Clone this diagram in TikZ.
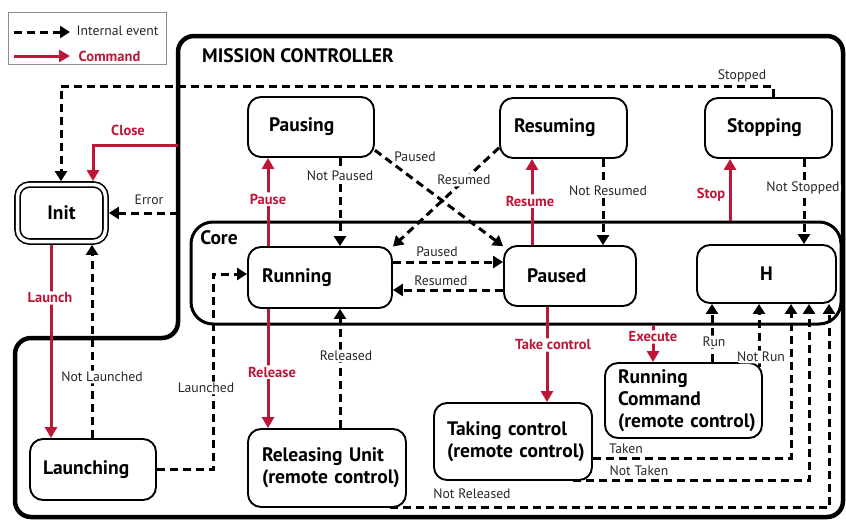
\documentclass[tikz,border=0pt]{standalone}
\usepackage{fontspec}
\setmainfont{PT Sans}
\usetikzlibrary{arrows.meta}
\definecolor{cmdred}{RGB}{190,22,56}
\tikzset{
  stbox/.style={draw, line width=1.9pt, rounded corners=13pt, inner ysep=0pt, align=left,
    font=\bfseries\fontsize{19.5}{22}\selectfont},
  ev/.style={line width=3pt, dash pattern=on 8pt off 5pt, -{Triangle[length=10pt,width=12pt]}},
  cmd/.style={line width=3pt, draw=cmdred, -{Triangle[length=11pt,width=12pt]}, cmdred},
  elab/.style={font=\fontsize{13.7}{15}\selectfont, text=black!85, inner sep=1.5pt},
  clab/.style={font=\bfseries\fontsize{14.5}{16}\selectfont, text=cmdred, inner sep=1.5pt},
  wbg/.style={fill=white, rounded corners=6pt}
}
\begin{document}
\begin{tikzpicture}[x=1pt,y=-1pt]
\useasboundingbox (0,0) rectangle (846,520);
% mission controller outline
\draw[line width=4.5pt, rounded corners=16pt] (178,200) -- (178,36) -- (843,36) -- (843,517) -- (15,517) -- (15,338) -- (178,338) -- cycle;
\node[font=\bfseries\fontsize{19.5}{22}\selectfont] (mctitle) at (298,56) {MISSION CONTROLLER};
% core
\node[draw, line width=3pt, rounded corners=22pt, minimum width=650pt, minimum height=102pt, inner sep=0pt] (core) at (516,273) {};
\node[font=\bfseries\fontsize{19.5}{22}\selectfont] (coretitle) at (219,238) {Core};
% legend
\node[draw=black!45, line width=0.8pt, minimum width=158pt, minimum height=52pt, inner sep=0pt] (legend) at (87,38) {};
\coordinate (lg1a) at (14,32); \coordinate (lg1b) at (70,32);
\coordinate (lg2a) at (14,56); \coordinate (lg2b) at (70,56);
\draw[ev] (lg1a) -- (lg1b);
\draw[cmd] (lg2a) -- (lg2b);
\node[elab, anchor=west] (lgt1) at (75,31) {Internal event};
\node[clab, anchor=west] (lgt2) at (77,56) {Command};
% states
\node[draw, double, double distance=3.5pt, line width=1.6pt, rounded corners=12pt, minimum width=88pt, minimum height=57pt, outer sep=3.4pt, inner sep=0pt, font=\bfseries\fontsize{19.5}{22}\selectfont] (Init) at (61.5,213) {Init};
\node[stbox, text width=100pt, inner xsep=13pt, minimum height=61pt] (Launching) at (93,469.5) {Launching};
\node[stbox, text width=116pt, inner xsep=14pt, minimum height=61pt] (Running) at (320,277.5) {Running};
\node[stbox, text width=130pt, inner xsep=14pt, minimum height=78pt] (Releasing) at (327,468) {\mbox{Releasing Unit}\\\mbox{(remote control)}};
\node[stbox, text width=84pt, inner xsep=21pt, minimum height=60pt] (Pausing) at (311,127) {Pausing};
\node[stbox, text width=99pt, inner xsep=14pt, minimum height=60pt] (Resuming) at (563.5,128) {Resuming};
\node[stbox, text width=83pt, inner xsep=22pt, minimum height=60pt] (Stopping) at (768.5,128) {Stopping};
\node[stbox, text width=86pt, inner xsep=23pt, minimum height=60pt] (Paused) at (570,276) {Paused};
\node[stbox, align=center, text width=115pt, inner xsep=12pt, minimum height=58pt] (H) at (766.5,274) {H};
\node[stbox, text width=132pt, inner xsep=13pt, minimum height=77pt] (Taking) at (513,441.5) {\mbox{Taking control}\\\mbox{(remote control)}};
\node[stbox, text width=131pt, inner xsep=13pt, minimum height=75pt] (RC) at (683.5,400.5) {Running\\Command\\\mbox{(remote control)}};
% outside-origin coordinates on the mission controller border
\coordinate (closeStart) at (178,145);
\coordinate (errStart) at (178,213);
% connectors
\draw[ev] (773,0 |- Stopping.north) -- (773,86) -- (61,86) -- (61,0 |- Init.north)
  node[elab] (lStopped) at (742,76) {Stopped};
\draw[cmd] (closeStart) -- (93,145) -- (93,0 |- Init.north)
  node[clab] (lClose) at (128,130) {Close};
\draw[ev] (errStart) -- (Init.east)
  node[elab] (lError) at (149,200) {Error};
\draw[cmd] (51,0 |- Init.south) -- (51,0 |- Launching.north)
  node[clab, wbg] (lLaunch) at (50,298) {Launch};
\draw[ev] (92,0 |- Launching.north) -- (92,0 |- Init.south)
  node[elab, wbg] (lNotLaunched) at (102,377) {Not Launched};
\draw[ev] (Launching.east) -| (213,274) -- (Running.west |- 0,274)
  node[elab, wbg] (lLaunched) at (206,388) {Launched};
\draw[cmd] (268,0 |- Running.north) -- (268,0 |- Pausing.south)
  node[clab, wbg] (lPause) at (268,199) {Pause};
\draw[ev] (340,0 |- Pausing.south) -- (340,0 |- Running.north)
  node[elab, wbg] (lNotPaused) at (340,176) {Not Paused};
\draw[ev] (Pausing.-20) -- (Paused.156)
  node[elab] (lPausedD) at (415,157) {Paused};
\draw[ev] (Resuming.197) -- (Running.23)
  node[elab, wbg] (lResumedD) at (464,180) {Resumed};
\draw[cmd] (532,0 |- Paused.north) -- (532,0 |- Resuming.south)
  node[clab, wbg] (lResume) at (530,201) {Resume};
\draw[ev] (603,0 |- Resuming.south) -- (603,0 |- Paused.north)
  node[elab, wbg] (lNotResumed) at (608,191) {Not Resumed};
\draw[cmd] (730,0 |- core.north) -- (730,0 |- Stopping.south)
  node[clab] (lStop) at (711,195) {Stop};
\draw[ev] (804,0 |- Stopping.south) -- (804,0 |- H.north)
  node[elab, wbg] (lNotStopped) at (803,188) {Not Stopped};
\draw[ev] (Running.east |- 0,262) -- (Paused.west |- 0,262)
  node[elab] (lPausedH) at (437,252) {Paused};
\draw[ev] (Paused.west |- 0,290) -- (Running.east |- 0,290)
  node[elab] (lResumedH) at (441,281) {Resumed};
\draw[cmd] (268,0 |- Running.south) -- (268,0 |- Releasing.north)
  node[clab, wbg] (lRelease) at (272,372) {Release};
\draw[ev] (340,0 |- Releasing.north) -- (340,0 |- Running.south)
  node[elab, wbg] (lReleased) at (346,356) {Released};
\draw[cmd] (547,0 |- Paused.south) -- (547,0 |- Taking.north)
  node[clab, wbg] (lTake) at (553,345) {Take control};
\draw[cmd] (653,0 |- core.south) -- (653,0 |- RC.north)
  node[clab, wbg] (lExecute) at (653,337) {Execute};
\draw[ev] (712,0 |- RC.north) -- (712,0 |- H.south)
  node[elab, wbg] (lRun) at (714,342) {Run};
\draw[ev] (759,367) -- (759,0 |- H.south)
  node[elab, wbg] (lNotRun) at (761,357) {Not Run};
\draw[ev] (Taking.east |- 0,458) -| (791,0 |- H.south)
  node[elab] (lTaken) at (626,449) {Taken};
\draw[ev] (573,0 |- Taking.south) -| (809,0 |- H.south)
  node[elab] (lNotTaken) at (639,471) {Not Taken};
\draw[ev] (390,0 |- Releasing.south) -| (829,0 |- H.south)
  node[elab] (lNotReleased) at (472,494) {Not Released};
\end{tikzpicture}
\end{document}
